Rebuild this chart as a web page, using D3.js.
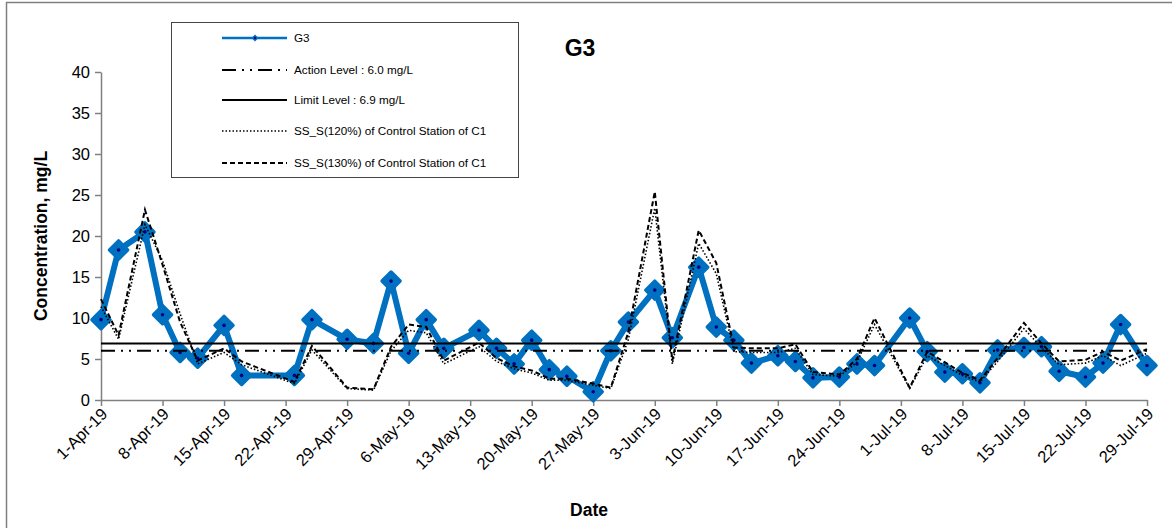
<!DOCTYPE html>
<html>
<head>
<meta charset="utf-8">
<script src="https://cdn.jsdelivr.net/npm/d3@7"></script>
<style>
  body { margin: 0; background: #fff; }
  svg { font-family: "Liberation Sans", Arial, sans-serif; }
</style>
</head>
<body>
<div id="chart"></div>
<script>
// sampling dates
var dates = ["2019-04-01","2019-04-03","2019-04-06","2019-04-08","2019-04-10","2019-04-12","2019-04-15","2019-04-17",
  "2019-04-23","2019-04-25","2019-04-29",
  "2019-05-02","2019-05-04","2019-05-06","2019-05-08","2019-05-10","2019-05-14","2019-05-16","2019-05-18","2019-05-20",
  "2019-05-22","2019-05-24","2019-05-27","2019-05-29","2019-05-31",
  "2019-06-03","2019-06-05","2019-06-08","2019-06-10","2019-06-12","2019-06-14","2019-06-17","2019-06-19","2019-06-21",
  "2019-06-24","2019-06-26","2019-06-28",
  "2019-07-02","2019-07-04","2019-07-06","2019-07-08","2019-07-10","2019-07-12","2019-07-15","2019-07-17","2019-07-19",
  "2019-07-22","2019-07-24","2019-07-26","2019-07-29"];

var g3 = [9.8,18.3,20.5,10.4,5.8,5.1,9.1,3.0,
  3.0,9.8,7.4,
  6.9,14.5,5.7,9.8,6.3,8.5,6.3,4.4,7.3,
  3.7,2.9,1.0,6.0,9.5,
  13.4,7.6,16.2,8.9,7.3,4.5,5.4,4.7,2.7,
  2.8,4.4,4.2,
  10.0,5.9,3.4,3.2,2.1,6.1,6.4,6.5,3.5,
  2.8,4.5,9.2,4.2];

var ss120 = [11.4,7.4,21.4,17.0,10.5,4.4,5.8,4.3,
  2.0,6.1,1.4,
  1.2,6.0,8.5,8.2,4.4,6.5,4.7,3.8,3.3,
  2.4,2.4,1.8,1.4,7.4,
  23.4,4.4,19.1,15.4,5.9,5.8,5.8,6.3,3.1,
  2.9,4.6,9.2,
  1.4,5.4,4.2,3.0,2.2,4.7,8.7,6.4,4.3,
  4.5,5.4,4.2,5.7];

var ss130 = [12.3,7.9,23.2,16.5,9.5,4.8,6.3,4.7,
  2.2,6.6,1.5,
  1.3,6.5,9.2,8.9,4.8,7.0,5.1,4.1,3.6,
  2.6,2.6,2.0,1.5,8.3,
  25.4,4.8,20.7,16.7,6.4,6.3,6.3,6.8,3.4,
  3.1,5.0,10.0,
  1.5,5.9,4.6,3.3,2.4,5.1,9.4,6.9,4.7,
  4.9,5.9,4.8,6.2];

var actionLevel = 6.0, limitLevel = 6.9;
var yTicks = [0,5,10,15,20,25,30,35,40];
var legendLabels = ["G3","Action Level : 6.0 mg/L","Limit Level : 6.9 mg/L",
  "SS_S(120%) of Control Station of C1","SS_S(130%) of Control Station of C1"];

var W = 1172, H = 528;
var parse = d3.timeParse("%Y-%m-%d");
var dd = dates.map(parse);
var start = dd[0], end = dd[dd.length - 1];

var x = d3.scaleTime().domain([start, end]).range([101, 1147]);
var y = d3.scaleLinear().domain([0, 40]).range([400, 72]);

var svg = d3.select("#chart").append("svg").attr("width", W).attr("height", H);

// outer frame (top + left edges visible)
svg.append("path").attr("d", "M6.5,528 V2.5 H1172")
  .attr("fill", "none").attr("stroke", "#7f7f7f").attr("stroke-width", 1.5);

// axes
var xAxis = d3.axisBottom(x)
  .tickValues(d3.timeMonday.range(start, d3.timeDay.offset(end, 1)))
  .tickFormat(d3.timeFormat("%-d-%b-%y"))
  .tickSizeInner(6).tickSizeOuter(0);
var gx = svg.append("g").attr("transform", "translate(0,400)").call(xAxis);
gx.select(".domain").attr("stroke", "#808080").attr("stroke-width", 1.5);
gx.selectAll(".tick line").attr("stroke", "#808080").attr("stroke-width", 1.5);
gx.selectAll(".tick text")
  .attr("font-size", 16.5).attr("fill", "#000")
  .attr("text-anchor", "end")
  .attr("dx", null).attr("dy", null).attr("y", null)
  .attr("transform", "translate(7,15) rotate(-45)");

var yAxis = d3.axisLeft(y).tickValues(yTicks).tickSizeInner(6).tickSizeOuter(0).tickPadding(5);
var gy = svg.append("g").attr("transform", "translate(101,0)").call(yAxis);
gy.select(".domain").attr("stroke", "#808080").attr("stroke-width", 1.5);
gy.selectAll(".tick line").attr("stroke", "#808080").attr("stroke-width", 1.5);
gy.selectAll(".tick text").attr("font-size", 16.5).attr("fill", "#000");

// G3 series
var line = d3.line().x(function (d) { return x(d[0]); }).y(function (d) { return y(d[1]); });
var g3pts = dd.map(function (d, i) { return [d, g3[i]]; });

svg.append("path").datum(g3pts).attr("d", line)
  .attr("fill", "none").attr("stroke", "#0070C0").attr("stroke-width", 6)
  .attr("stroke-linejoin", "round");

var diamond = function (r) { return "M0," + (-r) + "L" + r + ",0L0," + r + "L" + (-r) + ",0Z"; };
var mk = svg.append("g").selectAll("g").data(g3pts).enter().append("g")
  .attr("transform", function (d) { return "translate(" + x(d[0]) + "," + y(d[1]) + ")"; });
mk.append("path").attr("d", diamond(9)).attr("fill", "#0070C0")
  .attr("stroke", "#0070C0").attr("stroke-width", 3.5).attr("stroke-linejoin", "round");
mk.append("circle").attr("r", 1.8).attr("fill", "#000080");

// levels
var styles = {
  action: { dash: "14,6,2,6,2,6", w: 2 },
  limit: { dash: null, w: 2 },
  s120: { dash: "1.5,2", w: 1.6 },
  s130: { dash: "5,3", w: 2 }
};

svg.append("line").attr("x1", x(start)).attr("x2", x(end))
  .attr("y1", y(actionLevel)).attr("y2", y(actionLevel))
  .attr("stroke", "#000").attr("stroke-width", styles.action.w).attr("stroke-dasharray", styles.action.dash);
svg.append("line").attr("x1", x(start)).attr("x2", x(end))
  .attr("y1", y(limitLevel)).attr("y2", y(limitLevel))
  .attr("stroke", "#000").attr("stroke-width", styles.limit.w);

svg.append("path").datum(dd.map(function (d, i) { return [d, ss120[i]]; })).attr("d", line)
  .attr("fill", "none").attr("stroke", "#000").attr("stroke-width", styles.s120.w)
  .attr("stroke-dasharray", styles.s120.dash);
svg.append("path").datum(dd.map(function (d, i) { return [d, ss130[i]]; })).attr("d", line)
  .attr("fill", "none").attr("stroke", "#000").attr("stroke-width", styles.s130.w)
  .attr("stroke-dasharray", styles.s130.dash);

// title and axis labels
svg.append("text").attr("x", 580).attr("y", 56).attr("text-anchor", "middle")
  .attr("font-size", 23).attr("font-weight", "bold").text("G3");
svg.append("text").attr("transform", "translate(47,236) rotate(-90)").attr("text-anchor", "middle")
  .attr("font-size", 17.5).attr("font-weight", "bold").text("Concentration, mg/L");
svg.append("text").attr("x", 589).attr("y", 516).attr("text-anchor", "middle")
  .attr("font-size", 17.5).attr("font-weight", "bold").text("Date");

// legend
var lg = svg.append("g");
lg.append("rect").attr("x", 171.5).attr("y", 22.5).attr("width", 347).attr("height", 155)
  .attr("fill", "#fff").attr("stroke", "#444").attr("stroke-width", 1);
var rowsY = [38, 70, 100, 131, 163];
var keyStyle = [null, styles.action, styles.limit, styles.s120, styles.s130];
legendLabels.forEach(function (lab, i) {
  var yy = rowsY[i];
  if (i === 0) {
    lg.append("line").attr("x1", 222).attr("x2", 287).attr("y1", yy).attr("y2", yy)
      .attr("stroke", "#0070C0").attr("stroke-width", 2.5);
    lg.append("path").attr("transform", "translate(255," + yy + ")").attr("d", diamond(3.5)).attr("fill", "#0070C0");
    lg.append("circle").attr("cx", 255).attr("cy", yy).attr("r", 1.2).attr("fill", "#000080");
  } else {
    var s = keyStyle[i];
    lg.append("line").attr("x1", 222).attr("x2", 287).attr("y1", yy).attr("y2", yy)
      .attr("stroke", "#000").attr("stroke-width", s.w).attr("stroke-dasharray", s.dash);
  }
  lg.append("text").attr("x", 294).attr("y", yy + 4).attr("font-size", 11.7).text(lab);
});
</script>
</body>
</html>
